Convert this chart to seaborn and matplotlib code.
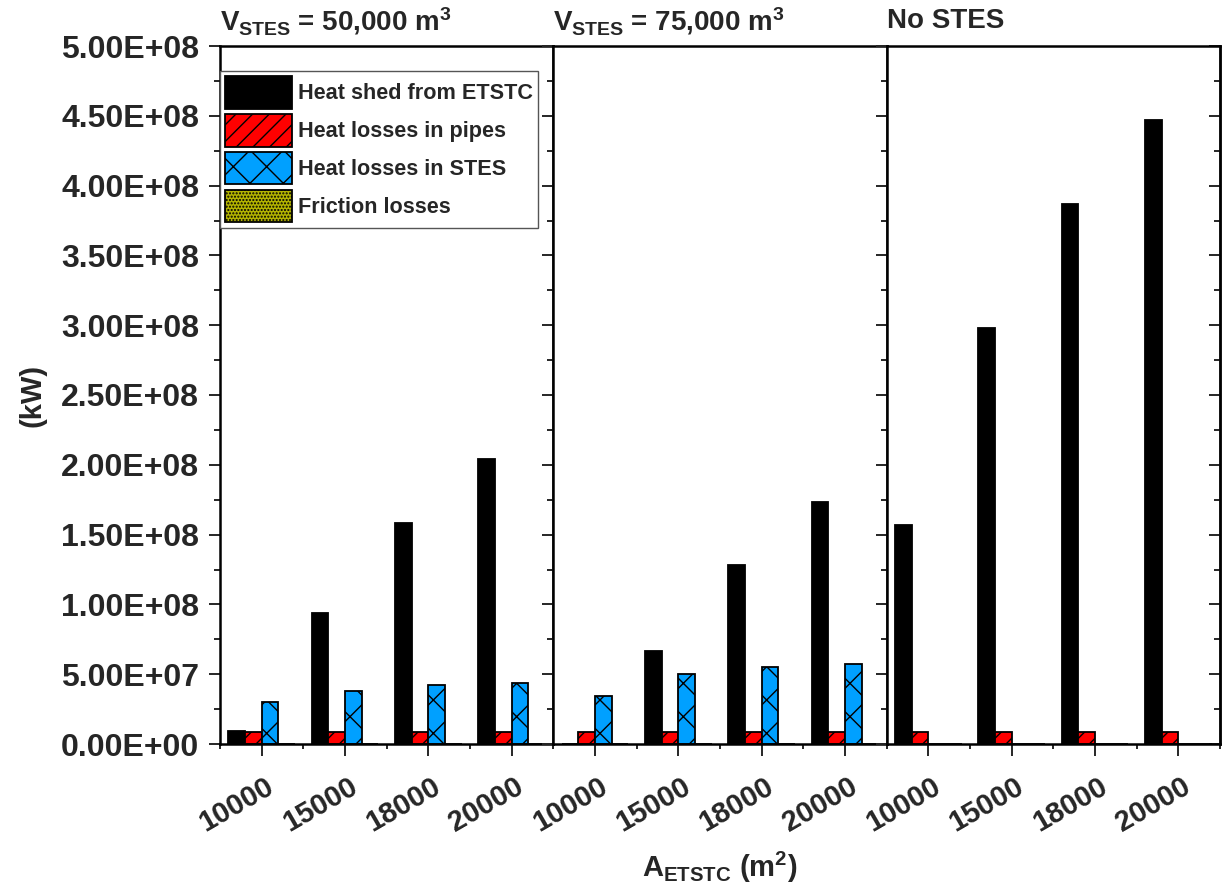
import matplotlib
matplotlib.use("Agg")
import numpy as np
import pandas as pd
import seaborn as sns
import matplotlib.pyplot as plt
import matplotlib.patches as mpatches
from matplotlib.transforms import ScaledTranslation
from matplotlib.ticker import FuncFormatter, MultipleLocator, FixedLocator, NullFormatter

# ---------------- data ----------------
areas = ["10000", "15000", "18000", "20000"]
series = ["Heat shed from ETSTC", "Heat losses in pipes", "Heat losses in STES", "Friction losses"]
panel_titles = [r"V$_{\mathrm{STES}}$ = 50,000 m$^{\mathrm{3}}$",
                r"V$_{\mathrm{STES}}$ = 75,000 m$^{\mathrm{3}}$",
                "No STES"]

heat_shed_50k = [9.5e6, 9.4e7, 1.58e8, 2.04e8]
pipes_50k = [8.4e6, 8.4e6, 8.4e6, 8.4e6]
stes_50k = [3.0e7, 3.8e7, 4.2e7, 4.4e7]
friction_50k = [3e5, 3e5, 3e5, 3e5]

heat_shed_75k = [0.0, 6.66e7, 1.28e8, 1.73e8]
pipes_75k = [8.4e6, 8.4e6, 8.4e6, 8.4e6]
stes_75k = [3.46e7, 5.0e7, 5.5e7, 5.73e7]
friction_75k = [3e5, 3e5, 3e5, 3e5]

heat_shed_none = [1.57e8, 2.98e8, 3.87e8, 4.47e8]
pipes_none = [8.4e6, 8.4e6, 8.4e6, 8.4e6]
stes_none = [0.0, 0.0, 0.0, 0.0]
friction_none = [0.0, 0.0, 0.0, 0.0]

panels = [
    [heat_shed_50k, pipes_50k, stes_50k, friction_50k],
    [heat_shed_75k, pipes_75k, stes_75k, friction_75k],
    [heat_shed_none, pipes_none, stes_none, friction_none],
]

colors = ["#000000", "#FF0000", "#00A0FF", "#B4B400"]
hatches = ["", "//", "x", "....."]

# ---------------- style ----------------
sns.set_theme(style="ticks")
plt.rcParams["font.family"] = ["Liberation Sans", "DejaVu Sans"]
plt.rcParams["font.weight"] = "bold"
plt.rcParams["mathtext.fontset"] = "custom"
plt.rcParams["mathtext.rm"] = "Liberation Sans:bold"
plt.rcParams["mathtext.it"] = "Liberation Sans:bold"
plt.rcParams["mathtext.bf"] = "Liberation Sans:bold"
plt.rcParams["hatch.linewidth"] = 1.0
plt.rcParams["hatch.color"] = "black"

W, H = 1230, 894
fig, axes = plt.subplots(1, 3, figsize=(W / 100, H / 100), dpi=100, sharey=True)
fig.subplots_adjust(left=220 / W, right=1220 / W, top=1 - 46 / H, bottom=1 - 744 / H, wspace=0)

fmt = FuncFormatter(lambda v, p: f"{v:.2E}")
label_shift = ScaledTranslation(10 / 100, 0, fig.dpi_scale_trans)

for i, (ax, vals, title) in enumerate(zip(axes, panels, panel_titles)):
    rows = []
    for s, v in zip(series, vals):
        for a, val in zip(areas, v):
            rows.append({"area": a, "series": s, "value": val})
    df = pd.DataFrame(rows)
    sns.barplot(data=df, x="area", y="value", hue="series", order=areas, hue_order=series,
                palette=colors, saturation=1, width=0.8, edgecolor="black", linewidth=1.3,
                errorbar=None, legend=False, ax=ax)
    for cont, h in zip(ax.containers, hatches):
        for bar in cont:
            bar.set_hatch(h)
    ax.set_xlabel("")
    ax.set_ylabel("")
    ax.set_xlim(-0.5, 3.5)
    ax.set_ylim(0, 5e8)
    ax.yaxis.set_major_locator(MultipleLocator(5e7))
    ax.yaxis.set_minor_locator(MultipleLocator(2.5e7))
    ax.yaxis.set_major_formatter(fmt)
    ax.xaxis.set_minor_locator(FixedLocator([-0.5, 0.5, 1.5, 2.5, 3.5]))
    for sp in ax.spines.values():
        sp.set_linewidth(1.8)
        sp.set_color("black")
    ax.tick_params(axis="y", which="major", direction="out", length=8, width=1.4,
                   left=True, right=False, labelsize=23, labelleft=(i == 0), pad=7)
    ax.tick_params(axis="y", which="minor", direction="out", length=4, width=1.4,
                   left=True, right=False)
    ax.tick_params(axis="x", which="major", direction="out", length=8.6, width=1.4,
                   bottom=True, top=False, labelsize=21, pad=20.5)
    ax.tick_params(axis="x", which="minor", direction="out", length=3.6, width=1.4,
                   bottom=True, top=False)
    for lab in ax.get_xticklabels():
        lab.set_rotation(30)
        lab.set_ha("right")
        lab.set_va("center")
        lab.set_rotation_mode("anchor")
        lab.set_fontweight("bold")
        lab.set_transform(lab.get_transform() + label_shift)
    for lab in ax.get_yticklabels():
        lab.set_fontweight("bold")
    ax.set_title(title, loc="left", fontsize=20, fontweight="bold",
                 pad=(11 if i < 2 else 13))

# inward ticks on the right side of last panel
sec = axes[2].secondary_yaxis("right")
sec.yaxis.set_major_locator(MultipleLocator(5e7))
sec.yaxis.set_minor_locator(MultipleLocator(2.5e7))
sec.yaxis.set_major_formatter(NullFormatter())
sec.tick_params(which="major", direction="in", length=8, width=1.4)
sec.tick_params(which="minor", direction="in", length=4, width=1.4)
sec.spines["right"].set_linewidth(1.8)

# legend
handles = [mpatches.Patch(facecolor=c, edgecolor="black", hatch=h, linewidth=1.3, label=s)
           for c, h, s in zip(colors, hatches, series)]
leg = axes[0].legend(handles=handles, loc="upper left", bbox_to_anchor=(0, 0.9646),
                     borderaxespad=0, fontsize=15.6, handlelength=3.05, handleheight=1.93,
                     labelspacing=0.25, borderpad=0.25, handletextpad=0.3,
                     fancybox=False, framealpha=1, edgecolor="#555555", frameon=True)
leg.get_frame().set_linewidth(1.0)
for t in leg.get_texts():
    t.set_fontweight("bold")

fig.text(33 / W, 1 - 395 / H, "(kW)", rotation=90, ha="center", va="center",
         fontsize=21, fontweight="bold")
fig.text(720 / W, 1 - 877 / H, r"A$_{\mathrm{ETSTC}}$ (m$^{\mathrm{2}}$)", ha="center",
         va="baseline", fontsize=21, fontweight="bold")

fig.savefig("out.png", dpi=100)
